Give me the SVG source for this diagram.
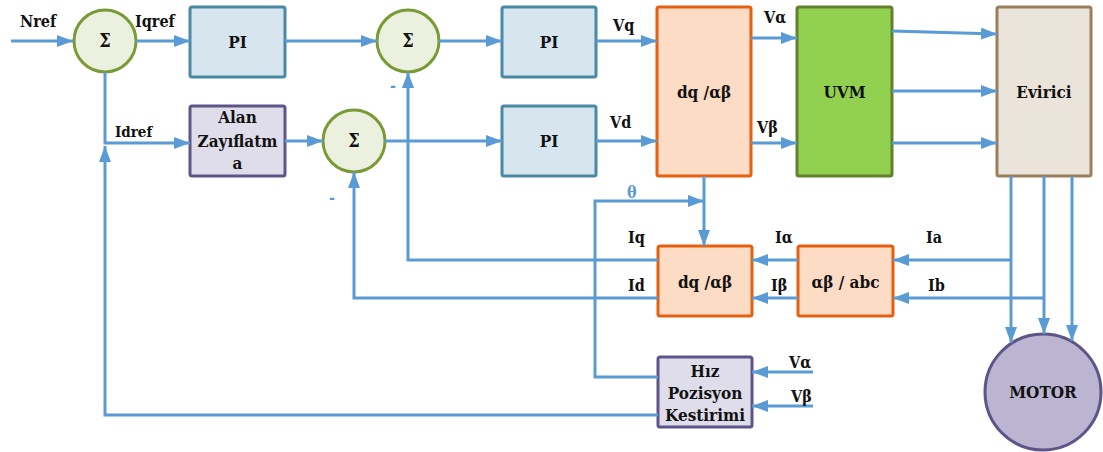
<svg xmlns="http://www.w3.org/2000/svg" width="1103" height="452" viewBox="0 0 1103 452">
<defs>
<marker id="ah" markerUnits="userSpaceOnUse" markerWidth="17" markerHeight="13" refX="16" refY="6" orient="auto"><path d="M0,0 L16,6 L0,12 z" fill="#5B9BD5"/></marker>
<style>
.ln{fill:none;stroke:#5B9BD5;stroke-width:3}
.ar{marker-end:url(#ah)}
.bl{font-size:17px;text-anchor:middle}
.sg{font-size:18px;text-anchor:middle}
.sl{font-size:16px}
.sum{fill:#EBF1DE;stroke:#7A9A35;stroke-width:3}
.pi{fill:#D6E5EE;stroke:#4A89A3;stroke-width:3}
.dq{fill:#FDDCC6;stroke:#E65E0F;stroke-width:3}
.pu{fill:#E0DDEB;stroke:#5F5488;stroke-width:3}
</style>
</defs>
<rect width="1103" height="452" fill="#fff"/>
<g font-family="DejaVu Serif Condensed, DejaVu Serif, serif" font-stretch="condensed" font-weight="bold" fill="#111">
<g id="sum1"><circle class="sum" cx="105" cy="41" r="31"/><text class="sg" x="105" y="47" fill="#111">Σ</text></g>
<g id="pi1"><rect class="pi" x="190" y="7" width="95" height="70" rx="2"/><text class="bl" x="237.5" y="48" fill="#111">PI</text></g>
<g id="alan"><rect class="pu" x="190" y="106" width="95" height="70" rx="2"/><text class="bl" x="237.5" y="123" fill="#111">Alan</text><text class="bl" x="237.5" y="147" fill="#111">Zayıflatm</text><text class="bl" x="237.5" y="169" fill="#111">a</text></g>
<g id="sum2"><circle class="sum" cx="408" cy="41" r="31"/><text class="sg" x="408" y="47" fill="#111">Σ</text></g>
<g id="sum3"><circle class="sum" cx="354" cy="141" r="31"/><text class="sg" x="354" y="147" fill="#111">Σ</text></g>
<g id="pi2"><rect class="pi" x="502" y="7" width="94" height="70" rx="2"/><text class="bl" x="549" y="48" fill="#111">PI</text></g>
<g id="pi3"><rect class="pi" x="502" y="106" width="94" height="70" rx="2"/><text class="bl" x="549" y="147" fill="#111">PI</text></g>
<g id="dq1"><rect class="dq" x="657" y="7" width="94" height="169" rx="2"/><text class="bl" x="704" y="98" fill="#111">dq /αβ</text></g>
<g id="uvm"><rect x="797" y="7" width="95" height="169" rx="2" fill="#92D050" stroke="#62802E" stroke-width="3"/><text class="bl" x="844.5" y="98" fill="#111">UVM</text></g>
<g id="evirici"><rect x="997" y="7" width="94" height="169" rx="2" fill="#EBE4DA" stroke="#99805A" stroke-width="3"/><text class="bl" x="1044" y="98" fill="#111">Evirici</text></g>
<g id="dq2"><rect class="dq" x="658" y="246" width="94" height="70" rx="2"/><text class="bl" x="705" y="288" fill="#111">dq /αβ</text></g>
<g id="abc"><rect class="dq" x="798" y="246" width="95" height="70" rx="2"/><text class="bl" x="845.5" y="288" fill="#111">αβ / abc</text></g>
<g id="hiz"><rect class="pu" x="658" y="357" width="94" height="70" rx="2"/><text class="bl" x="705" y="377" fill="#111">Hız</text><text class="bl" x="705" y="399" fill="#111">Pozisyon</text><text class="bl" x="705" y="421" fill="#111">Kestirimi</text></g>
<g id="motor"><circle cx="1043" cy="392" r="58" fill="#BCB5D1" stroke="#5F5488" stroke-width="3"/><text class="bl" x="1043" y="398" fill="#111">MOTOR</text></g>
</g>
<g id="connectors">
<path class="ln ar" d="M11,41 L73,41"/>
<path class="ln ar" d="M136,41 L190,41"/>
<path class="ln ar" d="M105,72 L105,143 L190,143"/>
<path class="ln ar" d="M658,415 L105,415 L105,146"/>
<path class="ln ar" d="M285,41 L377,41"/>
<path class="ln ar" d="M439,41 L502,41"/>
<path class="ln ar" d="M285,141 L323,141"/>
<path class="ln ar" d="M385,141 L502,141"/>
<path class="ln ar" d="M596,41 L657,41"/>
<path class="ln ar" d="M596,141 L657,141"/>
<path class="ln ar" d="M751,38 L797,38"/>
<path class="ln ar" d="M751,143 L797,143"/>
<path class="ln ar" d="M892,31 L997,34"/>
<path class="ln ar" d="M892,91 L997,91"/>
<path class="ln ar" d="M892,143 L997,143"/>
<path class="ln ar" d="M1011,176 L1011,343"/>
<path class="ln ar" d="M1044,176 L1044,334"/>
<path class="ln ar" d="M1072,176 L1072,341"/>
<path class="ln ar" d="M1011,260 L893,260"/>
<path class="ln ar" d="M1044,298 L893,298"/>
<path class="ln ar" d="M798,260 L752,260"/>
<path class="ln ar" d="M798,298 L752,298"/>
<path class="ln ar" d="M658,260 L408,260 L408,72"/>
<path class="ln ar" d="M658,298 L354,298 L354,172"/>
<path class="ln ar" d="M658,377 L595,377 L595,201 L704,201"/>
<path class="ln ar" d="M704,176 L704,246"/>
<path class="ln ar" d="M813,372 L752,372"/>
<path class="ln ar" d="M813,406 L752,406"/>
</g>
<g id="labels" font-family="DejaVu Serif Condensed, DejaVu Serif, serif" font-stretch="condensed" font-weight="bold" fill="#111">
<text class="sl" x="20" y="27">Nref</text>
<text class="sl" x="135" y="27">Iqref</text>
<text font-size="15" x="115" y="137">Idref</text>
<text class="sl" x="613" y="31">Vq</text>
<text class="sl" x="610" y="128">Vd</text>
<text class="sl" x="764" y="23">Vα</text>
<text class="sl" x="757" y="133">Vβ</text>
<text class="sl" x="628" y="243">Iq</text>
<text class="sl" x="628" y="291">Id</text>
<text class="sl" x="775" y="243">Iα</text>
<text class="sl" x="771" y="291">Iβ</text>
<text class="sl" x="926" y="243">Ia</text>
<text class="sl" x="928" y="291">Ib</text>
<text class="sl" x="789" y="368">Vα</text>
<text class="sl" x="791" y="402">Vβ</text>
<text class="sl" x="627" y="198" fill="#5B9BD5">θ</text>
<text class="sl" x="390" y="91" fill="#5B9BD5">-</text>
<text class="sl" x="329" y="203" fill="#5B9BD5">-</text>
</g>
</svg>
